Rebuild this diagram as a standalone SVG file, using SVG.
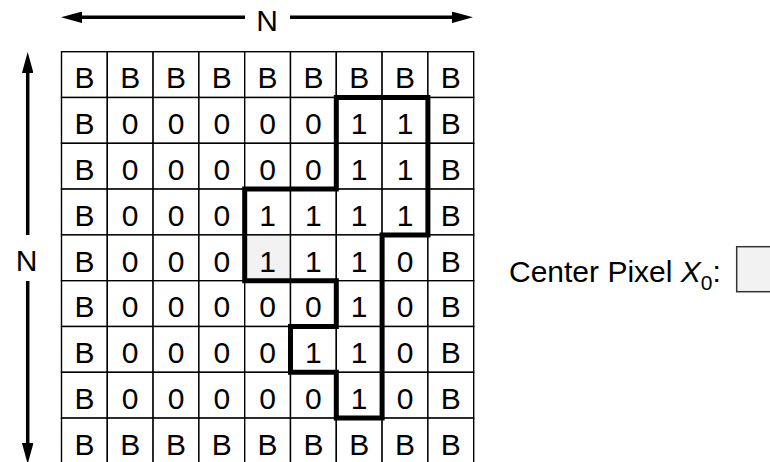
<svg xmlns="http://www.w3.org/2000/svg" width="770" height="462" viewBox="0 0 770 462">
<style>
.cell rect{fill:#fff;stroke:#000;stroke-width:1.4}
.cell.hl rect{fill:#f2f2f2}
.cell text,.lbl{font-family:"Liberation Sans",Arial,sans-serif;font-size:30px;fill:#000;text-anchor:middle}
.arr{stroke:#000;stroke-width:3.5;fill:none}
</style>
<defs>
<marker id="ah" viewBox="0 0 21 11.5" markerWidth="21" markerHeight="11.5" refX="10" refY="5.75" orient="auto" markerUnits="userSpaceOnUse">
<path d="M0,0 L21,5.75 L0,11.5 Z" fill="#000"/>
</marker>
</defs>
<g id="grid">
<g id="r0c0" class="cell"><rect x="61.5" y="51.7" width="45.8" height="45.8"/><text x="84.4" y="88.4">B</text></g>
<g id="r0c1" class="cell"><rect x="107.3" y="51.7" width="45.8" height="45.8"/><text x="130.2" y="88.4">B</text></g>
<g id="r0c2" class="cell"><rect x="153.1" y="51.7" width="45.8" height="45.8"/><text x="176.0" y="88.4">B</text></g>
<g id="r0c3" class="cell"><rect x="198.9" y="51.7" width="45.8" height="45.8"/><text x="221.8" y="88.4">B</text></g>
<g id="r0c4" class="cell"><rect x="244.7" y="51.7" width="45.8" height="45.8"/><text x="267.6" y="88.4">B</text></g>
<g id="r0c5" class="cell"><rect x="290.5" y="51.7" width="45.8" height="45.8"/><text x="313.4" y="88.4">B</text></g>
<g id="r0c6" class="cell"><rect x="336.3" y="51.7" width="45.8" height="45.8"/><text x="359.2" y="88.4">B</text></g>
<g id="r0c7" class="cell"><rect x="382.1" y="51.7" width="45.8" height="45.8"/><text x="405.0" y="88.4">B</text></g>
<g id="r0c8" class="cell"><rect x="427.9" y="51.7" width="45.8" height="45.8"/><text x="450.8" y="88.4">B</text></g>

<g id="r1c0" class="cell"><rect x="61.5" y="97.5" width="45.8" height="45.8"/><text x="84.4" y="134.2">B</text></g>
<g id="r1c1" class="cell"><rect x="107.3" y="97.5" width="45.8" height="45.8"/><text x="130.2" y="134.2">0</text></g>
<g id="r1c2" class="cell"><rect x="153.1" y="97.5" width="45.8" height="45.8"/><text x="176.0" y="134.2">0</text></g>
<g id="r1c3" class="cell"><rect x="198.9" y="97.5" width="45.8" height="45.8"/><text x="221.8" y="134.2">0</text></g>
<g id="r1c4" class="cell"><rect x="244.7" y="97.5" width="45.8" height="45.8"/><text x="267.6" y="134.2">0</text></g>
<g id="r1c5" class="cell"><rect x="290.5" y="97.5" width="45.8" height="45.8"/><text x="313.4" y="134.2">0</text></g>
<g id="r1c6" class="cell"><rect x="336.3" y="97.5" width="45.8" height="45.8"/><text x="359.2" y="134.2">1</text></g>
<g id="r1c7" class="cell"><rect x="382.1" y="97.5" width="45.8" height="45.8"/><text x="405.0" y="134.2">1</text></g>
<g id="r1c8" class="cell"><rect x="427.9" y="97.5" width="45.8" height="45.8"/><text x="450.8" y="134.2">B</text></g>

<g id="r2c0" class="cell"><rect x="61.5" y="143.3" width="45.8" height="45.8"/><text x="84.4" y="180.0">B</text></g>
<g id="r2c1" class="cell"><rect x="107.3" y="143.3" width="45.8" height="45.8"/><text x="130.2" y="180.0">0</text></g>
<g id="r2c2" class="cell"><rect x="153.1" y="143.3" width="45.8" height="45.8"/><text x="176.0" y="180.0">0</text></g>
<g id="r2c3" class="cell"><rect x="198.9" y="143.3" width="45.8" height="45.8"/><text x="221.8" y="180.0">0</text></g>
<g id="r2c4" class="cell"><rect x="244.7" y="143.3" width="45.8" height="45.8"/><text x="267.6" y="180.0">0</text></g>
<g id="r2c5" class="cell"><rect x="290.5" y="143.3" width="45.8" height="45.8"/><text x="313.4" y="180.0">0</text></g>
<g id="r2c6" class="cell"><rect x="336.3" y="143.3" width="45.8" height="45.8"/><text x="359.2" y="180.0">1</text></g>
<g id="r2c7" class="cell"><rect x="382.1" y="143.3" width="45.8" height="45.8"/><text x="405.0" y="180.0">1</text></g>
<g id="r2c8" class="cell"><rect x="427.9" y="143.3" width="45.8" height="45.8"/><text x="450.8" y="180.0">B</text></g>

<g id="r3c0" class="cell"><rect x="61.5" y="189.1" width="45.8" height="45.8"/><text x="84.4" y="225.8">B</text></g>
<g id="r3c1" class="cell"><rect x="107.3" y="189.1" width="45.8" height="45.8"/><text x="130.2" y="225.8">0</text></g>
<g id="r3c2" class="cell"><rect x="153.1" y="189.1" width="45.8" height="45.8"/><text x="176.0" y="225.8">0</text></g>
<g id="r3c3" class="cell"><rect x="198.9" y="189.1" width="45.8" height="45.8"/><text x="221.8" y="225.8">0</text></g>
<g id="r3c4" class="cell"><rect x="244.7" y="189.1" width="45.8" height="45.8"/><text x="267.6" y="225.8">1</text></g>
<g id="r3c5" class="cell"><rect x="290.5" y="189.1" width="45.8" height="45.8"/><text x="313.4" y="225.8">1</text></g>
<g id="r3c6" class="cell"><rect x="336.3" y="189.1" width="45.8" height="45.8"/><text x="359.2" y="225.8">1</text></g>
<g id="r3c7" class="cell"><rect x="382.1" y="189.1" width="45.8" height="45.8"/><text x="405.0" y="225.8">1</text></g>
<g id="r3c8" class="cell"><rect x="427.9" y="189.1" width="45.8" height="45.8"/><text x="450.8" y="225.8">B</text></g>

<g id="r4c0" class="cell"><rect x="61.5" y="234.9" width="45.8" height="45.8"/><text x="84.4" y="271.6">B</text></g>
<g id="r4c1" class="cell"><rect x="107.3" y="234.9" width="45.8" height="45.8"/><text x="130.2" y="271.6">0</text></g>
<g id="r4c2" class="cell"><rect x="153.1" y="234.9" width="45.8" height="45.8"/><text x="176.0" y="271.6">0</text></g>
<g id="r4c3" class="cell"><rect x="198.9" y="234.9" width="45.8" height="45.8"/><text x="221.8" y="271.6">0</text></g>
<g id="r4c4" class="cell hl"><rect x="244.7" y="234.9" width="45.8" height="45.8"/><text x="267.6" y="271.6">1</text></g>
<g id="r4c5" class="cell"><rect x="290.5" y="234.9" width="45.8" height="45.8"/><text x="313.4" y="271.6">1</text></g>
<g id="r4c6" class="cell"><rect x="336.3" y="234.9" width="45.8" height="45.8"/><text x="359.2" y="271.6">1</text></g>
<g id="r4c7" class="cell"><rect x="382.1" y="234.9" width="45.8" height="45.8"/><text x="405.0" y="271.6">0</text></g>
<g id="r4c8" class="cell"><rect x="427.9" y="234.9" width="45.8" height="45.8"/><text x="450.8" y="271.6">B</text></g>

<g id="r5c0" class="cell"><rect x="61.5" y="280.7" width="45.8" height="45.8"/><text x="84.4" y="317.4">B</text></g>
<g id="r5c1" class="cell"><rect x="107.3" y="280.7" width="45.8" height="45.8"/><text x="130.2" y="317.4">0</text></g>
<g id="r5c2" class="cell"><rect x="153.1" y="280.7" width="45.8" height="45.8"/><text x="176.0" y="317.4">0</text></g>
<g id="r5c3" class="cell"><rect x="198.9" y="280.7" width="45.8" height="45.8"/><text x="221.8" y="317.4">0</text></g>
<g id="r5c4" class="cell"><rect x="244.7" y="280.7" width="45.8" height="45.8"/><text x="267.6" y="317.4">0</text></g>
<g id="r5c5" class="cell"><rect x="290.5" y="280.7" width="45.8" height="45.8"/><text x="313.4" y="317.4">0</text></g>
<g id="r5c6" class="cell"><rect x="336.3" y="280.7" width="45.8" height="45.8"/><text x="359.2" y="317.4">1</text></g>
<g id="r5c7" class="cell"><rect x="382.1" y="280.7" width="45.8" height="45.8"/><text x="405.0" y="317.4">0</text></g>
<g id="r5c8" class="cell"><rect x="427.9" y="280.7" width="45.8" height="45.8"/><text x="450.8" y="317.4">B</text></g>

<g id="r6c0" class="cell"><rect x="61.5" y="326.5" width="45.8" height="45.8"/><text x="84.4" y="363.2">B</text></g>
<g id="r6c1" class="cell"><rect x="107.3" y="326.5" width="45.8" height="45.8"/><text x="130.2" y="363.2">0</text></g>
<g id="r6c2" class="cell"><rect x="153.1" y="326.5" width="45.8" height="45.8"/><text x="176.0" y="363.2">0</text></g>
<g id="r6c3" class="cell"><rect x="198.9" y="326.5" width="45.8" height="45.8"/><text x="221.8" y="363.2">0</text></g>
<g id="r6c4" class="cell"><rect x="244.7" y="326.5" width="45.8" height="45.8"/><text x="267.6" y="363.2">0</text></g>
<g id="r6c5" class="cell"><rect x="290.5" y="326.5" width="45.8" height="45.8"/><text x="313.4" y="363.2">1</text></g>
<g id="r6c6" class="cell"><rect x="336.3" y="326.5" width="45.8" height="45.8"/><text x="359.2" y="363.2">1</text></g>
<g id="r6c7" class="cell"><rect x="382.1" y="326.5" width="45.8" height="45.8"/><text x="405.0" y="363.2">0</text></g>
<g id="r6c8" class="cell"><rect x="427.9" y="326.5" width="45.8" height="45.8"/><text x="450.8" y="363.2">B</text></g>

<g id="r7c0" class="cell"><rect x="61.5" y="372.3" width="45.8" height="45.8"/><text x="84.4" y="409.0">B</text></g>
<g id="r7c1" class="cell"><rect x="107.3" y="372.3" width="45.8" height="45.8"/><text x="130.2" y="409.0">0</text></g>
<g id="r7c2" class="cell"><rect x="153.1" y="372.3" width="45.8" height="45.8"/><text x="176.0" y="409.0">0</text></g>
<g id="r7c3" class="cell"><rect x="198.9" y="372.3" width="45.8" height="45.8"/><text x="221.8" y="409.0">0</text></g>
<g id="r7c4" class="cell"><rect x="244.7" y="372.3" width="45.8" height="45.8"/><text x="267.6" y="409.0">0</text></g>
<g id="r7c5" class="cell"><rect x="290.5" y="372.3" width="45.8" height="45.8"/><text x="313.4" y="409.0">0</text></g>
<g id="r7c6" class="cell"><rect x="336.3" y="372.3" width="45.8" height="45.8"/><text x="359.2" y="409.0">1</text></g>
<g id="r7c7" class="cell"><rect x="382.1" y="372.3" width="45.8" height="45.8"/><text x="405.0" y="409.0">0</text></g>
<g id="r7c8" class="cell"><rect x="427.9" y="372.3" width="45.8" height="45.8"/><text x="450.8" y="409.0">B</text></g>

<g id="r8c0" class="cell"><rect x="61.5" y="418.1" width="45.8" height="45.8"/><text x="84.4" y="454.8">B</text></g>
<g id="r8c1" class="cell"><rect x="107.3" y="418.1" width="45.8" height="45.8"/><text x="130.2" y="454.8">B</text></g>
<g id="r8c2" class="cell"><rect x="153.1" y="418.1" width="45.8" height="45.8"/><text x="176.0" y="454.8">B</text></g>
<g id="r8c3" class="cell"><rect x="198.9" y="418.1" width="45.8" height="45.8"/><text x="221.8" y="454.8">B</text></g>
<g id="r8c4" class="cell"><rect x="244.7" y="418.1" width="45.8" height="45.8"/><text x="267.6" y="454.8">B</text></g>
<g id="r8c5" class="cell"><rect x="290.5" y="418.1" width="45.8" height="45.8"/><text x="313.4" y="454.8">B</text></g>
<g id="r8c6" class="cell"><rect x="336.3" y="418.1" width="45.8" height="45.8"/><text x="359.2" y="454.8">B</text></g>
<g id="r8c7" class="cell"><rect x="382.1" y="418.1" width="45.8" height="45.8"/><text x="405.0" y="454.8">B</text></g>
<g id="r8c8" class="cell"><rect x="427.9" y="418.1" width="45.8" height="45.8"/><text x="450.8" y="454.8">B</text></g>
</g>
<g id="region">
<path d="M336.3,97.5 H427.9 V234.9 H382.1 V418.1 H336.3 V372.3 H290.5 V326.5 H336.3 V280.7 H244.7 V189.1 H336.3 Z" fill="none" stroke="#000" stroke-width="5" stroke-linejoin="miter"/>
</g>
<g id="connectors">
<line class="arr" x1="245" y1="17.3" x2="72" y2="17.3" marker-end="url(#ah)"/>
<line class="arr" x1="290" y1="17.3" x2="462" y2="17.3" marker-end="url(#ah)"/>
<line class="arr" x1="27.7" y1="235" x2="27.7" y2="63" marker-end="url(#ah)"/>
<line class="arr" x1="27.7" y1="281" x2="27.7" y2="453" marker-end="url(#ah)"/>
</g>
<g id="labels">
<text class="lbl" x="267" y="31">N</text>
<text class="lbl" x="26.5" y="271">N</text>
</g>
<g id="center-pixel">
<text x="509" y="281.7" style="font-family:'Liberation Sans',Arial,sans-serif;font-size:30px;fill:#000">Center Pixel <tspan font-style="italic">X</tspan><tspan font-size="21" dy="8">0</tspan><tspan dy="-8">:</tspan></text>
<rect x="736.7" y="246.7" width="45.8" height="45" fill="#f2f2f2" stroke="#333" stroke-width="1.5"/>
</g>
</svg>
